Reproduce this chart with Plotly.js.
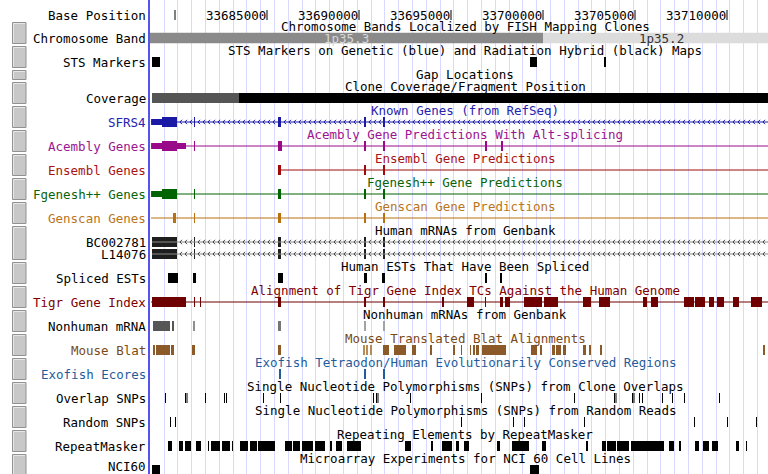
<!DOCTYPE html>
<html><head><meta charset="utf-8">
<script src="https://cdn.plot.ly/plotly-3.0.1.min.js"></script>
<style>html,body{margin:0;padding:0;background:#fff}#chart{width:768px;height:474px}</style>
</head><body><div id="chart"></div>
<script>
// ================= DATA (chr1 genomic coordinates, bp) =================
const tickPositions = [33680000, 33685000, 33690000, 33695000, 33700000, 33705000, 33710000];
const tickLabels    = ['', '33685000', '33690000', '33695000', '33700000', '33705000', '33710000'];

const bandNames  = ['1p35.3', '1p35.2'];
const bandStarts = [33600000, 33700000];
const bandEnds   = [33700000, 33800000];

const stsStarts = [33678750, 33699293, 33703315];
const stsEnds   = [33679185, 33699674, 33703424];

const coverageStarts = [33678750, 33683478];
const coverageEnds   = [33683478, 33720000];
const coverageKind   = ['draft', 'finished'];

// Known Genes: SFRS4 (minus strand)
const sfrs4Tx        = [33678700, 33720000];
const sfrs4UtrStarts = [33678700];
const sfrs4UtrEnds   = [33679293];
const sfrs4CdsStarts = [33679293, 33681033, 33685598, 33690272, 33691304];
const sfrs4CdsEnds   = [33680109, 33681087, 33685761, 33690380, 33691413];

// Acembly
const acemblyTx        = [33678700, 33720000];
const acemblyUtrStarts = [33678700, 33680109];
const acemblyUtrEnds   = [33679293, 33680598];
const acemblyCdsStarts = [33679293, 33681033, 33685598, 33690272, 33691304, 33696848, 33697717];
const acemblyCdsEnds   = [33680109, 33681087, 33685815, 33690380, 33691413, 33696957, 33697826];

// Ensembl
const ensemblTx        = [33685598, 33720000];
const ensemblCdsStarts = [33685598, 33690272, 33691304];
const ensemblCdsEnds   = [33685761, 33690380, 33691413];

// Fgenesh++
const fgeneshTx        = [33678700, 33720000];
const fgeneshUtrStarts = [33678700];
const fgeneshUtrEnds   = [33679293];
const fgeneshCdsStarts = [33679293, 33681033, 33685598, 33690272, 33691304];
const fgeneshCdsEnds   = [33680109, 33681087, 33685761, 33690380, 33691413];

// Genscan
const genscanTx        = [33678700, 33720000];
const genscanCdsStarts = [33679890, 33681033, 33685598, 33690272, 33691304];
const genscanCdsEnds   = [33680054, 33681087, 33685761, 33690380, 33691413];

// Human mRNAs
const bc002781Tx     = [33678750, 33720000];
const bc002781Starts = [33678750, 33681033, 33685598, 33690272, 33691304];
const bc002781Ends   = [33680109, 33681087, 33685761, 33690380, 33691413];
const l14076Tx       = [33678750, 33720000];
const l14076Starts   = [33678750, 33681033, 33685598, 33690272, 33691304];
const l14076Ends     = [33680109, 33681087, 33685761, 33690380, 33691413];

// Spliced ESTs
const estStarts = [33679620, 33680978, 33685598, 33690272, 33691250, 33696848, 33697663];
const estEnds   = [33680163, 33681141, 33685870, 33690435, 33691413, 33696957, 33697772];

// Tigr Gene Index
const tigrTx     = [33678700, 33720000];
const tigrStarts = [33678750, 33681033, 33681359, 33685598, 33690272, 33691304, 33694511, 33695870, 33696848, 33697663,
                    33697935, 33698967, 33700054, 33702174, 33703043, 33705435, 33705870, 33707663, 33708261, 33709022,
                    33709457, 33710326, 33711304];
const tigrEnds   = [33680598, 33681087, 33681413, 33685761, 33690380, 33691413, 33694620, 33696250, 33696902, 33697826,
                    33698207, 33699946, 33700815, 33702609, 33703641, 33705652, 33706250, 33708207, 33708804, 33709293,
                    33709837, 33710652, 33711902];

// Nonhuman mRNA (score -> shade)
const nonhumanStarts = [33678804, 33679837, 33680978, 33685598, 33690272, 33691304];
const nonhumanEnds   = [33679728, 33679946, 33681087, 33685761, 33690380, 33691413];
const nonhumanScore  = [900, 900, 550, 700, 420, 420];

// Mouse translated Blat
const mouseStarts = [33678804, 33678967, 33679783, 33680924, 33685598, 33690217, 33690380, 33690598, 33691304, 33691902,
                     33692880, 33693859, 33695109, 33695543, 33696033, 33696196, 33696359, 33696685, 33699348, 33699837,
                     33700489, 33700707, 33701087, 33702174, 33702500, 33703098, 33711957];
const mouseEnds   = [33678913, 33679728, 33679946, 33681087, 33685761, 33690326, 33690489, 33690707, 33691630, 33692554,
                     33693098, 33693967, 33695217, 33695598, 33696087, 33696304, 33696522, 33697989, 33699674, 33699946,
                     33700652, 33700978, 33701250, 33702337, 33702609, 33703207, 33712065];
const mouseScore  = [1000, 1000, 1000, 1000, 1000, 600, 600, 600, 1000, 1000,
                     1000, 1000, 1000, 1000, 1000, 1000, 1000, 1000, 1000, 1000,
                     1000, 1000, 1000, 1000, 1000, 1000, 1000];

// Exofish ecores
const exofishStarts = [33685652, 33690272, 33691304];
const exofishEnds   = [33685761, 33690380, 33691413];

// SNPs
const overlapSnps = [33679457, 33680543, 33680625, 33681630, 33682663, 33682772, 33684783, 33685707, 33690761, 33690924,
                     33691005, 33692772, 33696630, 33701685, 33703859, 33703940, 33704837, 33704918, 33705217, 33705380,
                     33706467, 33707011, 33707663, 33709565];
const randomSnps  = [33679728, 33680000, 33695543, 33698370, 33698967, 33702228, 33708207, 33710000, 33711576];

// RepeatMasker
const repeatStarts = [33679620, 33680217, 33680543, 33681141, 33681793, 33681957, 33682554, 33683098, 33683533, 33684076,
                      33684511, 33685978, 33686413, 33686902, 33687609, 33688424, 33688750, 33689348, 33692500, 33693913,
                      33694511, 33695272, 33695707, 33697500, 33698315, 33699946, 33702337, 33703207, 33703478, 33704022,
                      33704783, 33706848, 33707391, 33708261, 33708696, 33709185, 33710489, 33711033];
const repeatEnds   = [33679837, 33680435, 33680870, 33681413, 33681848, 33682446, 33682989, 33683152, 33683967, 33684457,
                      33685435, 33686359, 33686793, 33687500, 33688152, 33688533, 33689076, 33690109, 33692826, 33694022,
                      33695054, 33695435, 33695978, 33697663, 33699239, 33700163, 33702446, 33703424, 33703967, 33704674,
                      33706576, 33707120, 33707500, 33708478, 33709022, 33709511, 33710652, 33711087];

// NCI60
const nciStarts = [33678750, 33699293];
const nciEnds   = [33679185, 33699783];

// Track list
const trackTitles = [
  'Chromosome Bands Localized by FISH Mapping Clones',
  'STS Markers on Genetic (blue) and Radiation Hybrid (black) Maps',
  'Gap Locations',
  'Clone Coverage/Fragment Position',
  'Known Genes (from RefSeq)',
  'Acembly Gene Predictions With Alt-splicing',
  'Ensembl Gene Predictions',
  'Fgenesh++ Gene Predictions',
  'Genscan Gene Predictions',
  'Human mRNAs from Genbank',
  'Human ESTs That Have Been Spliced',
  'Alignment of Tigr Gene Index TCs Against the Human Genome',
  'Nonhuman mRNAs from Genbank',
  'Mouse Translated Blat Alignments',
  'Exofish Tetraodon/Human Evolutionarily Conserved Regions',
  'Single Nucleotide Polymorphisms (SNPs) from Clone Overlaps',
  'Single Nucleotide Polymorphisms (SNPs) from Random Reads',
  'Repeating Elements by RepeatMasker',
  'Microarray Experiments for NCI 60 Cell Lines'
];
const trackRowLabels = [
  ['Chromosome Band'], ['STS Markers'], [], ['Coverage'], ['SFRS4'], ['Acembly Genes'], ['Ensembl Genes'],
  ['Fgenesh++ Genes'], ['Genscan Genes'], ['BC002781', 'L14076'], ['Spliced ESTs'], ['Tigr Gene Index'],
  ['Nonhuman mRNA'], ['Mouse Blat'], ['Exofish Ecores'], ['Overlap SNPs'], ['Random SNPs'], ['RepeatMasker'], ['NCI60']
];

// ================= STYLE / LAYOUT =================
const FONT = 'DejaVu Sans Mono, monospace';
const FS = 12.5;
const BP_PER_PX = 5000 / 92;
const xStart = 33678641, xEnd = 33712228, windowEnd = 33712880;
const trackColors = ['#000', '#000', '#000', '#000', '#2424b0', '#9a1590', '#a81414', '#0a640a', '#b8751a', '#000',
                     '#000', '#7e0000', '#000', '#7a4a18', '#1f5c9c', '#000', '#000', '#000', '#000'];
const GENE = {known: '#1a1aa6', acembly: '#990a8a', ensembl: '#a00a0a', fgenesh: '#006400', genscan: '#b87010',
              mrna: '#1e1e1e', tigr: '#6e0000', mouse: '#8b5a28', exofish: '#1f5c9c'};

const tops = [];
let t = 21;
trackRowLabels.forEach(r => { tops.push(t); t += 12 + 12 * r.length; });
const rowY = (i, r) => tops[i] + 17 + 12 * (r || 0);

const traces = [];
function bars(starts, ends, y, h, color) {
  traces.push({type: 'bar', orientation: 'h', base: starts,
    x: ends.map((e, i) => Math.max(e - starts[i], BP_PER_PX)), y: starts.map(() => y),
    width: starts.map(() => h), marker: {color: color, line: {width: 0}},
    hoverinfo: 'skip', showlegend: false});
}
function lines(segs, y, color) {
  const xs = [], ys = [];
  segs.forEach(s => { xs.push(s[0], s[1], null); ys.push(y, y, null); });
  traces.push({type: 'scatter', mode: 'lines', x: xs, y: ys, line: {color: color, width: 1},
    hoverinfo: 'skip', showlegend: false});
}
function chevrons(starts, ends, tx, y, color) {
  const blocks = starts.map((s, i) => [s, ends[i]]).sort((a, b) => a[0] - b[0]);
  const xs = [], ys = [];
  const step = 5 * BP_PER_PX, w = 2 * BP_PER_PX;
  for (let i = 0; i < blocks.length; i++) {
    const a = blocks[i][1], b = i + 1 < blocks.length ? blocks[i + 1][0] : Math.min(tx[1], xEnd);
    for (let x = a + step * 0.6; x + w < b - BP_PER_PX; x += step) {
      xs.push(x + w, x, x + w, null); ys.push(y - 2.2, y, y + 2.2, null);
    }
  }
  traces.push({type: 'scatter', mode: 'lines', x: xs, y: ys, line: {color: color, width: 1},
    hoverinfo: 'skip', showlegend: false});
}
const THICK = 10, THIN = 6;

// Base position ticks
(function () {
  const xs = [], ys = [];
  tickPositions.forEach(p => { xs.push(p, p, null); ys.push(10, 20, null); });
  traces.push({type: 'scatter', mode: 'lines', x: xs, y: ys, line: {color: '#000', width: 1}, hoverinfo: 'skip', showlegend: false});
})();

// Chromosome band
bars(bandStarts, bandEnds, rowY(0), 10.5, ['#8a8a8a', '#dcdcdc']);
// STS
bars(stsStarts, stsEnds, rowY(1), THICK, '#000');
// Coverage
bars(coverageStarts, coverageEnds, rowY(3), THICK, coverageKind.map(k => k === 'draft' ? '#555' : '#000'));
// Known genes
lines([sfrs4Tx], rowY(4), GENE.known);
chevrons(sfrs4UtrStarts.concat(sfrs4CdsStarts), sfrs4UtrEnds.concat(sfrs4CdsEnds), sfrs4Tx, rowY(4), GENE.known);
bars(sfrs4UtrStarts, sfrs4UtrEnds, rowY(4), THIN, GENE.known);
bars(sfrs4CdsStarts, sfrs4CdsEnds, rowY(4), THICK, GENE.known);
// Acembly
lines([acemblyTx], rowY(5), GENE.acembly);
bars(acemblyUtrStarts, acemblyUtrEnds, rowY(5), THIN, GENE.acembly);
bars(acemblyCdsStarts, acemblyCdsEnds, rowY(5), THICK, GENE.acembly);
// Ensembl
lines([ensemblTx], rowY(6), GENE.ensembl);
bars(ensemblCdsStarts, ensemblCdsEnds, rowY(6), THICK, GENE.ensembl);
// Fgenesh
lines([fgeneshTx], rowY(7), GENE.fgenesh);
bars(fgeneshUtrStarts, fgeneshUtrEnds, rowY(7), THIN, GENE.fgenesh);
bars(fgeneshCdsStarts, fgeneshCdsEnds, rowY(7), THICK, GENE.fgenesh);
// Genscan
lines([genscanTx], rowY(8), GENE.genscan);
bars(genscanCdsStarts, genscanCdsEnds, rowY(8), THICK, GENE.genscan);
// mRNAs
[[bc002781Tx, bc002781Starts, bc002781Ends], [l14076Tx, l14076Starts, l14076Ends]].forEach((m, r) => {
  lines([m[0]], rowY(9, r), '#8a8a8a');
  chevrons(m[1], m[2], m[0], rowY(9, r), '#444');
  bars(m[1], m[2], rowY(9, r), THICK, GENE.mrna);
});
// Spliced ESTs
bars(estStarts, estEnds, rowY(10), THICK, '#000');
// Tigr
lines([tigrTx], rowY(11), GENE.tigr);
bars(tigrStarts, tigrEnds, rowY(11), THICK, GENE.tigr);
// Nonhuman mRNA
bars(nonhumanStarts, nonhumanEnds, rowY(12), THICK, nonhumanScore.map(s => {
  const g = Math.round(230 - s * 0.16); return 'rgb(' + g + ',' + g + ',' + g + ')'; }));
// Mouse Blat
bars(mouseStarts, mouseEnds, rowY(13), THICK, mouseScore.map(s => s >= 1000 ? GENE.mouse : '#b88a58'));
// Exofish
bars(exofishStarts, exofishEnds, rowY(14), THICK, GENE.exofish);
// SNPs
bars(overlapSnps, overlapSnps.map(p => p + BP_PER_PX), rowY(15), THICK, '#000');
bars(randomSnps, randomSnps.map(p => p + BP_PER_PX), rowY(16), THICK, '#000');
// RepeatMasker
bars(repeatStarts, repeatEnds, rowY(17), THICK, '#000');
// NCI60
bars(nciStarts, nciEnds, rowY(18), THICK, '#000');

// ================= ANNOTATIONS =================
const ann = [];
const centerX = (xStart + windowEnd) / 2;
const txt = (o) => Object.assign({showarrow: false, borderpad: 0, yref: 'y'}, o);
ann.push(txt({xref: 'paper', x: 0, y: 15, xanchor: 'right', xshift: -3, text: 'Base Position',
  font: {family: FONT, size: FS, color: '#000'}}));
tickPositions.forEach((p, i) => {
  if (tickLabels[i]) ann.push(txt({xref: 'x', x: p, y: 15, xanchor: 'right', xshift: 0, text: tickLabels[i],
    font: {family: FONT, size: FS, color: '#000'}}));
});
trackTitles.forEach((title, i) => {
  ann.push(txt({xref: 'x', x: centerX, y: tops[i] + 5, text: title,
    font: {family: FONT, size: FS, color: trackColors[i]}}));
  trackRowLabels[i].forEach((lab, r) => {
    ann.push(txt({xref: 'paper', x: 0, y: Math.min(rowY(i, r), 466.5), xanchor: 'right', xshift: -3, text: lab,
      font: {family: FONT, size: FS, color: trackColors[i]}}));
  });
});
bandNames.forEach((b, i) => {
  const c = (Math.max(bandStarts[i], xStart) + Math.min(bandEnds[i], windowEnd)) / 2;
  ann.push(txt({xref: 'x', x: c, y: rowY(0), text: b,
    font: {family: FONT, size: FS, color: i === 0 ? '#d8d8d8' : '#333'}}));
});

// Track buttons on the left
const shapes = [];
const pxToPaper = px => (px - 150) / 618;
trackRowLabels.forEach((r, i) => {
  const top = tops[i], bot = top + 12 + 12 * r.length;
  shapes.push({type: 'rect', xref: 'paper', yref: 'y', x0: pxToPaper(12.5), x1: pxToPaper(26), y0: top + 1.5, y1: bot - 1.5,
    fillcolor: '#c8c8c8', line: {color: '#929292', width: 1}, layer: 'above'});
  shapes.push({type: 'path', xref: 'paper', yref: 'y',
    path: 'M' + pxToPaper(13.5) + ',' + (bot - 2.5) + ' L' + pxToPaper(13.5) + ',' + (top + 2.5) + ' L' + pxToPaper(25) + ',' + (top + 2.5),
    line: {color: '#e6e6e6', width: 1}, layer: 'above'});
});

const layout = {
  width: 768, height: 474, autosize: false,
  margin: {l: 150, r: 0, t: 0, b: 0, pad: 0},
  paper_bgcolor: '#fff', plot_bgcolor: '#fff',
  barmode: 'overlay', showlegend: false,
  xaxis: {range: [xStart, xEnd], showgrid: true, gridcolor: '#d9d9ff', gridwidth: 1,
    tick0: 33679402, dtick: 750, tickmode: 'linear', showticklabels: false, ticks: '', zeroline: false, showline: false, fixedrange: true},
  yaxis: {range: [474, 0], showgrid: false, zeroline: false, showticklabels: false, ticks: '',
    showline: true, linecolor: '#5555ee', linewidth: 2, fixedrange: true},
  annotations: ann, shapes: shapes,
  font: {family: FONT, size: FS, color: '#000'}
};
Plotly.newPlot('chart', traces, layout, {staticPlot: true, displayModeBar: false});
</script>
</body></html>
